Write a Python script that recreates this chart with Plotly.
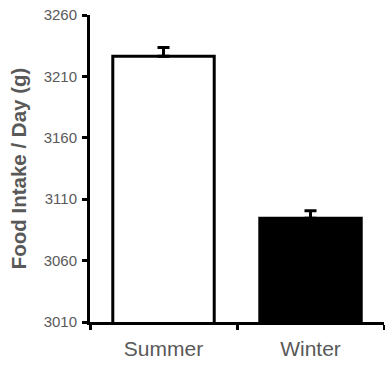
import plotly.graph_objects as go

categories = ["Summer", "Winter"]
intake = [3226.5, 3094.5]
sem = [7, 6]
y_ticks = [3010, 3060, 3110, 3160, 3210, 3260]

gray = "#595959"
font_family = "Liberation Sans, Arial, sans-serif"

fig = go.Figure()
fig.add_trace(go.Bar(
    x=categories,
    y=intake,
    width=0.69,
    marker=dict(color=["white", "black"], line=dict(color="black", width=3)),
    error_y=dict(type="data", array=sem, arrayminus=[0, 0], symmetric=False,
                 thickness=3, width=6, color="black"),
))

fig.update_layout(
    width=385, height=365,
    margin=dict(l=90, r=1, t=15, b=43),
    plot_bgcolor="white", paper_bgcolor="white",
    showlegend=False,
    font=dict(family=font_family, color=gray),
)
fig.update_xaxes(
    range=[-0.5, 1.5],
    showline=True, linecolor="black", linewidth=3,
    ticks="outside", tickson="boundaries", ticklen=5, tickwidth=3, tickcolor="black",
    tickfont=dict(size=21, color=gray, family=font_family),
    ticklabelstandoff=6,
    showgrid=False, zeroline=False,
)
fig.update_yaxes(
    range=[3010, 3260],
    tickvals=y_ticks,
    showline=True, linecolor="black", linewidth=3,
    ticks="outside", ticklen=5, tickwidth=3, tickcolor="black",
    tickfont=dict(size=15, color=gray, family=font_family),
    ticklabelstandoff=2,
    showgrid=False, zeroline=False,
    title=dict(text="<b>Food Intake / Day (g)</b>",
               font=dict(size=20.5, color=gray, family=font_family), standoff=12),
)

fig.write_html("out.html", config={"displayModeBar": False},
               post_script="document.body.style.margin='0';")
